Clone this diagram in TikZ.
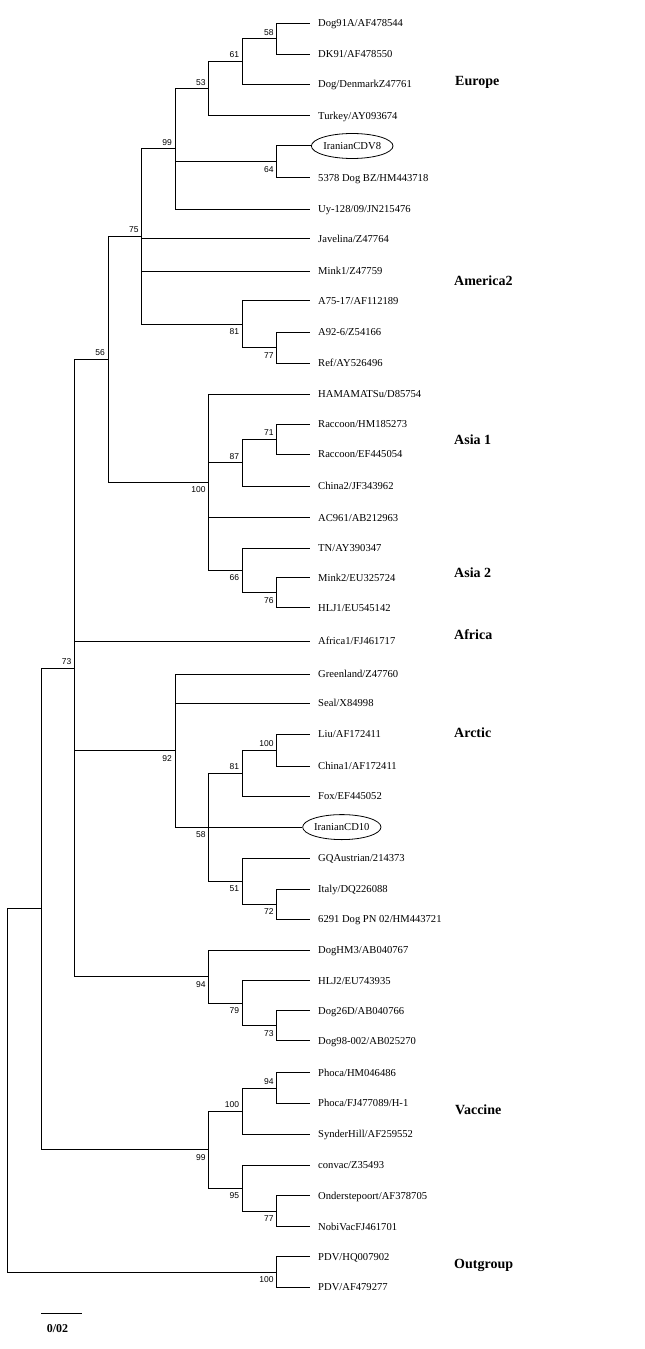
\documentclass[tikz,border=0pt]{standalone}
\usepackage{fontspec}
\setmainfont{Liberation Serif}
\newfontfamily\bootfont{Liberation Sans}
\usetikzlibrary{shapes.geometric}

\begin{document}
\begin{tikzpicture}[x=1bp, y=-1bp,
    branch/.style={line width=1bp},
    leaf/.style={anchor=west, inner xsep=8bp, inner ysep=0pt, text height=7bp, text depth=0pt,
        font=\fontsize{10.6bp}{12bp}\selectfont},
    isolate/.style={draw, ellipse, line width=0.8bp, anchor=west, inner sep=0pt,
        minimum width=73bp, minimum height=25bp, text height=7bp, text depth=0pt,
        font=\fontsize{10.6bp}{12bp}\selectfont},
    bsup/.style={anchor=east, inner sep=0pt, xshift=-3bp, yshift=6.5bp,
        font=\bootfont\fontsize{8.5bp}{9bp}\selectfont},
    bsdown/.style={anchor=east, inner sep=0pt, xshift=-3bp, yshift=-7.5bp,
        font=\bootfont\fontsize{8.5bp}{9bp}\selectfont},
    group/.style={anchor=west, inner sep=0pt, font=\fontsize{14bp}{16bp}\selectfont\bfseries}]
    \useasboundingbox (0,0) rectangle (645,1349);

    % Leaves
    \node[leaf] (dog91a) at (310,23.3) {Dog91A/AF478544};
    \node[leaf] (dk91) at (310,54.3) {DK91/AF478550};
    \node[leaf] (dogdenmark) at (310,84.3) {Dog/DenmarkZ47761};
    \node[leaf] (turkey) at (310,115.7) {Turkey/AY093674};
    \node[isolate] (cdv8) at (311,146) {IranianCDV8};
    \node[leaf] (dogbz) at (310,177.7) {5378 Dog BZ/HM443718};
    \node[leaf] (uy) at (310,209.3) {Uy-128/09/JN215476};
    \node[leaf] (javelina) at (310,239) {Javelina/Z47764};
    \node[leaf] (mink1) at (310,271) {Mink1/Z47759};
    \node[leaf] (a7517) at (310,300.7) {A75-17/AF112189};
    \node[leaf] (a926) at (310,332.3) {A92-6/Z54166};
    \node[leaf] (ref) at (310,363.3) {Ref/AY526496};
    \node[leaf] (hamamatsu) at (310,394) {HAMAMATSu/D85754};
    \node[leaf] (raccoon1) at (310,424) {Raccoon/HM185273};
    \node[leaf] (raccoon2) at (310,454.3) {Raccoon/EF445054};
    \node[leaf] (china2) at (310,486.3) {China2/JF343962};
    \node[leaf] (ac961) at (310,517.7) {AC961/AB212963};
    \node[leaf] (tn) at (310,548) {TN/AY390347};
    \node[leaf] (mink2) at (310,577.7) {Mink2/EU325724};
    \node[leaf] (hlj1) at (310,607.7) {HLJ1/EU545142};
    \node[leaf] (africa1) at (310,641) {Africa1/FJ461717};
    \node[leaf] (greenland) at (310,674.3) {Greenland/Z47760};
    \node[leaf] (seal) at (310,703.3) {Seal/X84998};
    \node[leaf] (liu) at (310,734.3) {Liu/AF172411};
    \node[leaf] (china1) at (310,766) {China1/AF172411};
    \node[leaf] (fox) at (310,796) {Fox/EF445052};
    \node[isolate] (cd10) at (302.3,827.1) {IranianCD10};
    \node[leaf] (gqaustrian) at (310,858) {GQAustrian/214373};
    \node[leaf] (italy) at (310,889.3) {Italy/DQ226088};
    \node[leaf] (dogpn) at (310,919.3) {6291 Dog PN 02/HM443721};
    \node[leaf] (doghm3) at (310,950) {DogHM3/AB040767};
    \node[leaf] (hlj2) at (310,980.7) {HLJ2/EU743935};
    \node[leaf] (dog26d) at (310,1010.7) {Dog26D/AB040766};
    \node[leaf] (dog98) at (310,1040.7) {Dog98-002/AB025270};
    \node[leaf] (phoca1) at (310,1072.7) {Phoca/HM046486};
    \node[leaf] (phoca2) at (310,1103.3) {Phoca/FJ477089/H-1};
    \node[leaf] (synderhill) at (310,1134.3) {SynderHill/AF259552};
    \node[leaf] (convac) at (310,1165.3) {convac/Z35493};
    \node[leaf] (onderstepoort) at (310,1195.7) {Onderstepoort/AF378705};
    \node[leaf] (nobivac) at (310,1226.7) {NobiVacFJ461701};
    \node[leaf] (pdv1) at (310,1256.7) {PDV/HQ007902};
    \node[leaf] (pdv2) at (310,1287.3) {PDV/AF479277};

    % Internal nodes
    \coordinate (n58) at (276.7,38.8);
    \coordinate (n61) at (242.3,61.55);
    \coordinate (n53) at (208.7,88.6);
    \coordinate (n64) at (276.7,161.85);
    \coordinate (n99) at (175,148.95);
    \coordinate (n77a) at (276.7,347.8);
    \coordinate (n81a) at (242.3,324.25);
    \coordinate (n75) at (141.7,236.6);
    \coordinate (n71) at (276.7,439.15);
    \coordinate (n87) at (242.3,462.7);
    \coordinate (n76) at (276.7,592.7);
    \coordinate (n66) at (242.3,570.35);
    \coordinate (n100a) at (208.7,482.2);
    \coordinate (n56) at (108,359.4);
    \coordinate (n100b) at (276.7,750.15);
    \coordinate (n81b) at (242.3,773.1);
    \coordinate (n72) at (276.7,904.3);
    \coordinate (n51) at (242.3,881.15);
    \coordinate (n58b) at (208.7,827.1);
    \coordinate (n92) at (175,750.7);
    \coordinate (n73b) at (276.7,1025.7);
    \coordinate (n79) at (242.3,1003.2);
    \coordinate (n94a) at (208.7,976.6);
    \coordinate (n73) at (74.5,668);
    \coordinate (n94b) at (276.7,1088);
    \coordinate (n100c) at (242.3,1111.15);
    \coordinate (n77b) at (276.7,1211.2);
    \coordinate (n95) at (242.3,1188.25);
    \coordinate (n99b) at (208.7,1149.7);
    \coordinate (n1) at (41,908.85);
    \coordinate (n100d) at (276.7,1272);
    \coordinate (root) at (7.3,1090.4);

    % Europe
    \draw[branch] (n58) |- (dog91a.west);
    \draw[branch] (n58) |- (dk91.west);
    \draw[branch] (n61) |- (n58);
    \draw[branch] (n61) |- (dogdenmark.west);
    \draw[branch] (n53) |- (n61);
    \draw[branch] (n53) |- (turkey.west);
    \draw[branch] (n64) |- (cdv8.west);
    \draw[branch] (n64) |- (dogbz.west);
    \draw[branch] (n99) |- (n53);
    \draw[branch] (n99) |- (n64);
    \draw[branch] (n99) |- (uy.west);

    % America2
    \draw[branch] (n77a) |- (a926.west);
    \draw[branch] (n77a) |- (ref.west);
    \draw[branch] (n81a) |- (a7517.west);
    \draw[branch] (n81a) |- (n77a);
    \draw[branch] (n75) |- (n99);
    \draw[branch] (n75) |- (javelina.west);
    \draw[branch] (n75) |- (mink1.west);
    \draw[branch] (n75) |- (n81a);

    % Asia 1 and Asia 2
    \draw[branch] (n71) |- (raccoon1.west);
    \draw[branch] (n71) |- (raccoon2.west);
    \draw[branch] (n87) |- (n71);
    \draw[branch] (n87) |- (china2.west);
    \draw[branch] (n76) |- (mink2.west);
    \draw[branch] (n76) |- (hlj1.west);
    \draw[branch] (n66) |- (tn.west);
    \draw[branch] (n66) |- (n76);
    \draw[branch] (n100a) |- (hamamatsu.west);
    \draw[branch] (n100a) |- (n87);
    \draw[branch] (n100a) |- (ac961.west);
    \draw[branch] (n100a) |- (n66);
    \draw[branch] (n56) |- (n75);
    \draw[branch] (n56) |- (n100a);

    % Arctic
    \draw[branch] (n100b) |- (liu.west);
    \draw[branch] (n100b) |- (china1.west);
    \draw[branch] (n81b) |- (n100b);
    \draw[branch] (n81b) |- (fox.west);
    \draw[branch] (n72) |- (italy.west);
    \draw[branch] (n72) |- (dogpn.west);
    \draw[branch] (n51) |- (gqaustrian.west);
    \draw[branch] (n51) |- (n72);
    \draw[branch] (n58b) |- (n81b);
    \draw[branch] (n58b) |- (cd10.west);
    \draw[branch] (n58b) |- (n51);
    \draw[branch] (n92) |- (greenland.west);
    \draw[branch] (n92) |- (seal.west);
    \draw[branch] (n92) |- (n58b);

    % Asian dog strains
    \draw[branch] (n73b) |- (dog26d.west);
    \draw[branch] (n73b) |- (dog98.west);
    \draw[branch] (n79) |- (hlj2.west);
    \draw[branch] (n79) |- (n73b);
    \draw[branch] (n94a) |- (doghm3.west);
    \draw[branch] (n94a) |- (n79);
    \draw[branch] (n73) |- (n56);
    \draw[branch] (n73) |- (africa1.west);
    \draw[branch] (n73) |- (n92);
    \draw[branch] (n73) |- (n94a);

    % Vaccine
    \draw[branch] (n94b) |- (phoca1.west);
    \draw[branch] (n94b) |- (phoca2.west);
    \draw[branch] (n100c) |- (n94b);
    \draw[branch] (n100c) |- (synderhill.west);
    \draw[branch] (n77b) |- (onderstepoort.west);
    \draw[branch] (n77b) |- (nobivac.west);
    \draw[branch] (n95) |- (convac.west);
    \draw[branch] (n95) |- (n77b);
    \draw[branch] (n99b) |- (n100c);
    \draw[branch] (n99b) |- (n95);
    \draw[branch] (n1) |- (n73);
    \draw[branch] (n1) |- (n99b);

    % Outgroup and root
    \draw[branch] (n100d) |- (pdv1.west);
    \draw[branch] (n100d) |- (pdv2.west);
    \draw[branch] (root) |- (n1);
    \draw[branch] (root) |- (n100d);

    % Bootstrap values
    \node[bsup] at (n58) {58};
    \node[bsup] at (n61) {61};
    \node[bsup] at (n53) {53};
    \node[bsdown] at (n64) {64};
    \node[bsup] at (n99) {99};
    \node[bsup] at (n75) {75};
    \node[bsdown] at (n81a) {81};
    \node[bsdown] at (n77a) {77};
    \node[bsup] at (n56) {56};
    \node[bsdown] at (n100a) {100};
    \node[bsup] at (n87) {87};
    \node[bsup] at (n71) {71};
    \node[bsdown] at (n66) {66};
    \node[bsdown] at (n76) {76};
    \node[bsup] at (n73) {73};
    \node[bsdown] at (n92) {92};
    \node[bsup] at (n81b) {81};
    \node[bsup] at (n100b) {100};
    \node[bsdown] at (n58b) {58};
    \node[bsdown] at (n51) {51};
    \node[bsdown] at (n72) {72};
    \node[bsdown] at (n94a) {94};
    \node[bsdown] at (n79) {79};
    \node[bsdown] at (n73b) {73};
    \node[bsup] at (n100c) {100};
    \node[bsup] at (n94b) {94};
    \node[bsdown] at (n99b) {99};
    \node[bsdown] at (n95) {95};
    \node[bsdown] at (n77b) {77};
    \node[bsdown] at (n100d) {100};

    % Group labels
    \node[group] (europe) at (455,82.7) {Europe};
    \node[group] (america2) at (454,281) {America2};
    \node[group] (asia1) at (454,440) {Asia 1};
    \node[group] (asia2) at (454,572.7) {Asia 2};
    \node[group] (africa) at (454,634.3) {Africa};
    \node[group] (arctic) at (454,732.7) {Arctic};
    \node[group] (vaccine) at (455,1109.5) {Vaccine};
    \node[group] (outgroup) at (454,1265.7) {Outgroup};

    % Scale bar
    \coordinate (bar1) at (41,1313.7);
    \coordinate (bar2) at (81.7,1313.7);
    \draw[branch] (bar1) -- (bar2);
    \node[inner sep=0pt, font=\fontsize{12bp}{14bp}\selectfont\bfseries] (barlabel) at (57.5,1329) {0/02};
\end{tikzpicture}
\end{document}
